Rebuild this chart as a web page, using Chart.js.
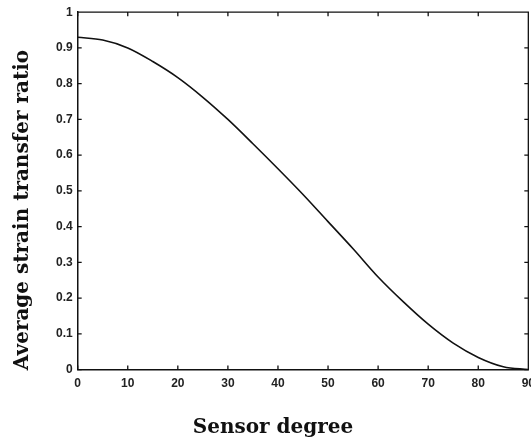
<!DOCTYPE html>
<html>
<head>
<meta charset="utf-8">
<script src="https://cdn.jsdelivr.net/npm/chart.js@4"></script>
<style>
html,body{margin:0;padding:0;background:#fff;overflow:hidden;width:531px;height:443px;}
#wrap{position:absolute;left:0;top:0;width:542px;height:443px;}
</style>
</head>
<body>
<div id="wrap"><canvas id="c"></canvas></div>
<script>
const degrees = [0,5,10,15,20,25,30,35,40,45,50,55,60,65,70,75,80,85,90];
const ratio = [0.930,0.922,0.900,0.862,0.817,0.762,0.700,0.632,0.562,0.490,0.414,0.338,0.259,0.190,0.127,0.074,0.034,0.008,0.000];
const xTicks = [0,10,20,30,40,50,60,70,80,90];
const yTicks = [0,0.1,0.2,0.3,0.4,0.5,0.6,0.7,0.8,0.9,1];
const xTitle = 'Sensor degree';
const yTitle = 'Average strain transfer ratio';

const boxTicks = {
  id: 'boxTicks',
  afterDraw(chart) {
    const {ctx, chartArea: a, scales} = chart;
    ctx.save();
    ctx.strokeStyle = '#111';
    ctx.lineWidth = 1.3;
    ctx.beginPath();
    ctx.moveTo(a.left, a.top); ctx.lineTo(a.right, a.top); ctx.lineTo(a.right, a.bottom);
    const L = 4;
    scales.x.ticks.forEach(t => {
      const p = scales.x.getPixelForValue(t.value);
      ctx.moveTo(p, a.bottom); ctx.lineTo(p, a.bottom - L);
      ctx.moveTo(p, a.top); ctx.lineTo(p, a.top + L);
    });
    scales.y.ticks.forEach(t => {
      const p = scales.y.getPixelForValue(t.value);
      ctx.moveTo(a.left, p); ctx.lineTo(a.left + L, p);
      ctx.moveTo(a.right, p); ctx.lineTo(a.right - L, p);
    });
    ctx.stroke();
    // axis titles
    ctx.fillStyle = '#111';
    ctx.font = 'bold 20px "DejaVu Serif"';
    ctx.textAlign = 'center';
    ctx.textBaseline = 'alphabetic';
    ctx.fillText(xTitle, 273, 433);
    ctx.translate(28, 210);
    ctx.rotate(-Math.PI / 2);
    ctx.fillText(yTitle, 0, 0);
    ctx.restore();
  }
};

new Chart(document.getElementById('c'), {
  type: 'line',
  data: {
    datasets: [{
      data: degrees.map((d, i) => ({x: d, y: ratio[i]})),
      borderColor: '#111',
      borderWidth: 1.6,
      pointRadius: 0,
      fill: false,
      cubicInterpolationMode: 'monotone'
    }]
  },
  options: {
    responsive: true,
    maintainAspectRatio: false,
    animation: false,
    layout: {padding: {top: 9, left: 51, right: 0, bottom: 45}},
    plugins: {legend: {display: false}, tooltip: {enabled: false}},
    scales: {
      x: {
        type: 'linear', min: 0, max: 90,
        afterBuildTicks(s) { s.ticks = xTicks.map(v => ({value: v})); },
        grid: {display: false, drawTicks: false},
        border: {display: true, color: '#111', width: 1.5},
        ticks: {color: '#222', padding: 7, maxRotation: 0, font: {family: 'Liberation Sans', weight: 'bold', size: 12}},
        title: {display: false, text: xTitle}
      },
      y: {
        min: 0, max: 1,
        afterBuildTicks(s) { s.ticks = yTicks.map(v => ({value: v})); },
        grid: {display: false, drawTicks: false},
        border: {display: true, color: '#111', width: 1.5},
        ticks: {color: '#222', padding: 5, callback: v => String(Math.round(v * 10) / 10), font: {family: 'Liberation Sans', weight: 'bold', size: 12}},
        title: {display: false, text: yTitle}
      }
    }
  },
  plugins: [boxTicks]
});
</script>
</body>
</html>
